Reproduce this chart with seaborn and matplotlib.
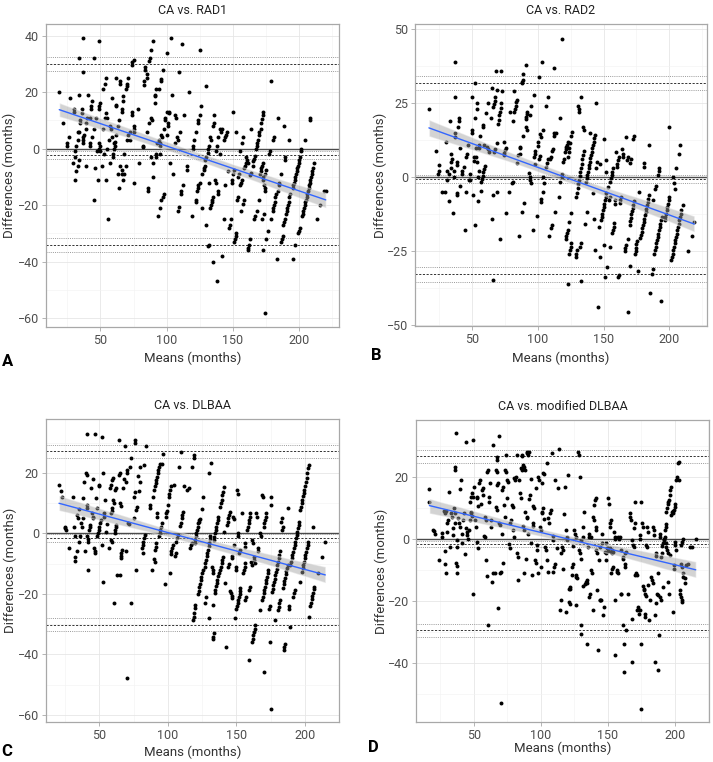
import matplotlib
matplotlib.use("Agg")
import matplotlib.pyplot as plt
import seaborn as sns
import pandas as pd
from matplotlib.ticker import MultipleLocator, FixedLocator
from matplotlib.collections import PolyCollection

sns.set_theme(style="white")
plt.rcParams['font.family'] = ['Roboto', 'DejaVu Sans']

titles = ["CA vs. RAD1", "CA vs. RAD2", "CA vs. DLBAA", "CA vs. modified DLBAA"]
letters = ["A", "B", "C", "D"]
xlabel = "Means (months)"
ylabel = "Differences (months)"

# Bland-Altman reference lines: [bias, bias CI hi, bias CI lo, upper LoA, upper hi, upper lo, lower LoA, lower hi, lower lo]
lines_a = [-2.2, -0.8, -3.6, 29.9, 32.4, 27.4, -34.1, -31.7, -36.6]
lines_b = [-0.5, 0.8, -1.8, 32.0, 34.3, 29.5, -32.8, -30.3, -35.3]
lines_c = [-1.6, -0.3, -3.0, 27.2, 29.3, 24.9, -30.2, -28.0, -32.4]
lines_d = [-1.5, -0.5, -2.7, 26.9, 28.9, 24.6, -29.5, -27.4, -31.7]

yticks_a = [-60, -40, -20, 0, 20, 40]
yticks_b = [-50, -25, 0, 25, 50]
yticks_c = [-60, -40, -20, 0, 20]
yticks_d = [-40, -20, 0, 20]
xticks = [50, 100, 150, 200]

pts_a = [(19,20),(22,9),(25,1),(25,2),(26,4),(27,18),(29,-5),(30,14),(30,13),(31,-11),(31,-1),(31,-3),(32,-8),(32,1),(33,3),(33,6),(33.5,-6),(34,19),(34,32),(34,6),(34,-4),(35,10),(35,9),(36,14),(36,12.5),(37,3),(37,2),(37,4),(37,39),(37,27),(37.5,5),(39,-6),(39,7),(39,9),(40,11),(41,19),(42,11),(42,1),(42,2),(43,15),(43,14),(43.5,4),(44,17),(45,-18),(45,7),(45.5,32),(46,-7),(47,11),(47.5,-1),(49,0),(49,2),(49,38),(49,14),(49,15),(48.5,-11),(50,16),(50,-1),(50,1),(51,-6),(52,7),(52,21),(53,-2),(53.5,23),(54,25),(53.5,11),(54,12.5),(54,-11),(55,11),(55,0),(56,-25),(56.5,3),(57,-5),(57,8),(58,7),(58.5,4),(59,18),(59.5,-3),(59.5,-2),(60,0),(60,2),(61,1),(61,2.5),(61.5,15.5),(62,15),(62,5),(62,25),(63,8),(63.5,-9),(64,10),(64,-14),(65,24),(65,23),(65,-6),(66,-7.5),(66.5,-9),(67,-11),(66,14),(66.5,13),(67,17),(67,18.5),(68,-2),(68,-9),(69,-6),(69,21),(70,22),(70,23),(70,3),(70.5,25),(71,5),(72,6),(72,3),(73.5,13),(74,12),(74,29.5),(74,30.5),(75,31.5),(75,8),(75,7),(75,6),(75.5,-12),(78.5,14),(79,-5),(82,1),(82.5,0.5),(83,24),(83,22.5),(83.5,29),(84,28),(85,26.5),(85,25),(85,6),(86,-14),(86,-15),(87,9),(87,31),(87.5,32),(88,-3),(88.5,35),(88.5,11),(89,10),(90,-5),(90,-10),(90,38),(91,18.5),(91,19),(91,16),(92,-3),(92,-2),(92,21),(93,2),(93.5,-24),(94,21),(94,3),(95,2),(95,1),(95,-2),(95,-21),(96,24.5),(96,24),(96,-18),(97,-17),(96,5),(96.5,4),(97,28),(98,7),(98,-16),(99,11),(99,10),(100,5),(100,13),(100,34),(101,9),(101,8),(102,12.5),(102,13),(102.5,-5),(103,39),(104,19),(105,-9),(106,2),(106.5,12),(107,11),(108,4),(108.5,3),(108.5,-22),(109,-20.5),(109,27),(110,6),(111,-16),(111,-15),(111.5,37),(112,-13),(113,12),(115,-7.5),(115,-6),(117,20),(119,-24),(120,0),(120,1),(121,3),(122,-19),(122,-18),(122,6),(123,-15),(124,-14),(124,-13),(125,-12),(124,9),(124,10),(125,35),(125,12),(126,15),(126.5,-21),(127,-9),(128,-7.5),(128.5,-7),(129,-6),(129,-4),(130,-3),(130,-27),(130,22),(131,-1.5),(131.5,0),(132,1),(131.5,-34.5),(132,-34),(132,-12),(133,-21),(133.5,-20),(134,-19),(134.5,-18),(135,-17),(133,4),(133.5,3),(135,-40),(135,8),(136,9),(136,12),(136.5,-11),(137,-12),(137,-1),(138,1),(138,-47),(138.5,-16),(139,-15),(139,4),(140,7),(140,-2),(141,6),(141.5,7),(142,-38),(143,-25),(143.5,3),(144,4),(144,-13),(145,5),(145.5,6),(146,-8),(147,-28),(148,-27),(148.5,-25),(149,-12),(149.5,-11),(150,13),(150,-9),(151,-7.5),(151,-33),(151.5,-32),(152,-31),(152.5,-30),(152,6),(153,-18),(153.5,-17),(154,-10),(154.5,-9),(155,-1),(155,-13),(156,-12),(156.5,-11),(156,-22),(157,2),(157.5,4),(157.5,-19.5),(158,-18),(158.5,-7),(159,-6),(159.5,-5),(160,-3),(160.5,-4),(161,-5),(161,-36),(161.5,-35),(162,-34),(162.5,-32),(163,-9.5),(163.5,-8.5),(164,7),(165,-6),(165.5,-4.5),(166,-3.5),(166.5,-2.5),(166,-25),(167,-24),(167.5,0),(168,1),(168.5,2),(169,3),(169.5,5),(170,6),(168.5,-22),(170,-18),(170.5,-9),(171,-8),(171.5,-7),(172,-6),(172.5,-5),(171,7),(171.5,9),(172,10.5),(172.5,12),(173,13),(172,-25),(172.5,-10),(173,-11),(173.5,-13),(174,-14),(174.5,-15),(173,-36),(173.5,-23),(174,-9),(175,-7.5),(174,-58),(175,-32),(176.5,-29),(177,-2),(178,-1),(178.5,24),(178.5,-25),(180,-22),(180.5,-21),(181,-20),(181.5,-19),(182,-17),(182.5,-16),(180,3),(181,4),(183,-39),(184,-15),(184.5,-13),(185,-12),(184,11),(186,-33),(187,-32),(187.5,-31),(186,-9),(188,-27),(188.5,-26),(189,-25),(188.5,8),(189,-3),(189.5,-4),(190,-23),(190.5,-22),(191,-21),(191.5,-20),(192,-19),(192.5,-17),(193,-16),(192,3),(195,-39),(195,-14),(195.5,-13),(196,-12),(196.5,-11),(197,-10),(197.5,-9),(198,-8),(198.5,-7),(199,-6),(199.5,-5),(200,-4),(200.5,-3),(201,-1),(197,-34),(199,-30),(200,-29),(200.5,-28),(201.5,0),(202,-24),(202.5,-23),(203,-22),(203.5,-21),(204,-20),(204.5,-19),(205,-18),(205.5,-17),(206,-16),(206.5,-15),(207,-14),(207.5,-13),(208,-12),(208.5,-11),(209,-10),(209.5,-9),(210,-8),(210.5,-7),(211,-5),(204,3),(208,10),(208.5,11),(213.5,-25),(216,-20),(218.5,-15),(220,-15)]

pts_b = [(17,23),(22.4,9),(24,1),(24.5,2),(25,4),(27,-5),(29,-5),(29.7,12),(31,2),(31,-1),(32,-8),(32.5,1),(33,19),(33.5,3),(34,5),(34.5,6),(34,8),(35.5,-12),(36,0),(36,2),(36.5,13.7),(37,15),(37,27),(37,39),(38,4),(38.5,5),(38,-6),(38.5,-5.5),(39,17),(39.6,20),(40,19),(40.5,-3),(41,10),(42.4,2),(42.4,1),(43.7,3.5),(44.4,-18),(45,-5),(45,7),(45.7,8),(47,11),(47.7,-1),(48.2,-1),(48.5,1),(49.5,27),(49.7,15),(50,16),(50.8,-6),(51,5.5),(51.5,7),(51.8,-16),(52,20),(52,32),(53,7),(53.3,5),(53,10),(53.3,23),(53.5,25),(54,0),(54.6,-8),(55,10),(55,11),(55.4,2),(56,14),(56.3,-4.5),(57,-1.5),(57.5,-0.5),(58,0.5),(58.5,1.7),(59,2.8),(59.6,3.8),(58,17.6),(58.4,17),(59,11),(60.4,21.6),(61.4,10.3),(62,9.4),(62,25),(63,8.6),(64.4,20),(64.7,30),(65,-14),(65.7,-6),(66,23.8),(66.5,24.7),(67,25.9),(67.5,27.2),(66.5,8.6),(67,9.7),(66,-34.8),(68,36),(68.5,29.5),(68.5,11.4),(68.5,-5),(69.5,18),(70,19.5),(70.5,21),(71,22),(71.5,23.5),(72,25),(71,-21),(71.8,36),(73,29),(74,7.5),(74.5,8.3),(75,9.2),(75.6,10),(74,12),(75.3,-12),(78,-5),(78.6,22),(80,-2),(80.7,-1.5),(81,19),(81.4,22),(82,29),(82.4,23),(83,24),(83.4,25.5),(83.7,4.7),(84.2,26),(85,7.5),(86,8),(85.7,-20),(86,10),(86.7,10.3),(87.5,31.7),(88,32.3),(88.5,33),(87.8,-11.7),(88.8,14),(88.8,35),(89.3,-8.6),(90.6,38),(90.6,19.7),(91,20.5),(91.5,21.3),(92,22),(91,17),(91.6,16),(93,1.3),(93.6,0.2),(94,-1),(94.6,-2),(94,21),(95,24),(96.4,-18),(97,7),(97.5,8),(98,9),(97,27.8),(98,4.6),(99,-13),(99.7,10.6),(100.2,12),(100.7,34),(101,6),(101.7,7.3),(101.7,14.6),(102,13.7),(102,-7.5),(102.7,-8.3),(103,39),(103.5,16),(103.7,-5),(104,0),(104.5,-2),(105.8,24),(106.5,3.6),(107,4.7),(107.5,6),(107.3,27),(108.5,-20),(109,6),(109.6,7),(110.3,-17),(110.8,-16),(110.8,9),(111.3,9.7),(112,37),(112,14),(112.6,15),(112.9,-11.7),(114,15),(115.7,-6.6),(116.7,20),(117,-1.5),(118,0),(118.4,1.1),(118.2,46.6),(119,5),(119.5,6),(120.5,8.6),(121,9.4),(121.5,10.2),(122,11),(122.5,11.8),(121,-21),(121.5,-20),(122,-19),(122.5,-18),(122.8,-36),(122.8,7),(123.5,8.5),(124,10),(124.7,11.7),(125.3,14),(126,15.4),(123.8,-25.8),(124.3,-24.6),(124.8,-23.5),(125.3,-22.3),(125.5,-12.2),(123.8,-15),(128.6,-27),(129,-25.8),(129.6,-24.6),(131,23),(131,22),(130.6,24),(129.3,-6.6),(129.8,-5.2),(130.3,-3.8),(130.8,-2.4),(131.3,-1),(131.8,0.4),(132.3,1.8),(132.8,3.2),(133.3,4.6),(133.8,6),(134.3,7.4),(134.8,8.8),(131.9,-23.5),(132.4,-22.3),(132.4,-35),(133,27),(134.4,17),(135,16),(135.7,-15.8),(136.4,-1.5),(137,-0.4),(137.5,0.8),(138,1.9),(138.5,3),(139,4.2),(139.5,5.3),(140,6.4),(140.5,7.5),(141,8.6),(141.5,9.8),(142,10.9),(142.5,12),(143,13.2),(143.5,14.3),(137.7,-11.7),(140,15),(142,-5.5),(143,-14),(143.5,-24.6),(144,25),(144.5,3),(145,5),(145.8,-43.8),(146.6,-16.7),(147,4.6),(147.6,-27),(148,-14.5),(148.5,-13.4),(149,-12.3),(149.5,-11.2),(150,-10),(150.5,-8.9),(151,-7.8),(151.5,-6.6),(152,-5.5),(150,13),(150.4,-23),(151,-33.6),(151.6,1.9),(152.7,-30.3),(152,5.8),(153,-3.2),(154,-7.7),(154.7,-6.8),(155,-1.5),(155.5,-0.4),(156,0.7),(156.5,1.8),(157,3),(155,-23.7),(156.7,-19),(157.2,-17.9),(157.7,-16.8),(158.2,-15.6),(158.5,-9),(159,-7.7),(159.7,8.6),(160,3.5),(160.5,4.6),(161,5.8),(161.5,7),(161,-33.6),(161.7,-33),(162.3,-8.6),(162.8,-7.6),(163.3,-6.6),(164,9.7),(164.5,8),(165,6.8),(166,-25),(166.6,-24),(167,-23),(167.4,13.7),(168,5.8),(168.4,7),(168.6,-45.5),(168.9,-21),(170,-16),(170.4,-14.9),(170.8,-13.8),(171.2,-12.6),(171.6,-11.5),(172,-10.4),(172.4,-9.3),(172.8,-8.1),(170,-30),(170.4,4.7),(171,6),(172.4,13),(173,14),(174,-26),(174.3,-25),(174.7,-23.8),(175,-22.7),(175.4,-21.6),(177,-5),(176.5,-31.6),(178,-20.7),(178.5,-19.6),(179,-18.5),(179.5,-17.3),(180,-16.2),(180.5,-15),(181,-14),(181.5,-12.9),(182,-11.7),(182.5,-10.6),(183,-9.5),(183.5,-8.4),(184,-7.2),(184.6,-6),(180.5,3.6),(181,4.7),(184.6,11),(185,-39),(187,-32.7),(187.6,-31),(187.6,-7.7),(188.6,-25.8),(189.1,-24.7),(189.6,-23.6),(190.1,-22.4),(190.6,-21.3),(191.1,-20.2),(191.6,-19.1),(192.1,-17.9),(192.6,-16.8),(193.1,-15.7),(193.6,-14.6),(194.1,-13.4),(189,-4),(189.7,-3),(191.4,0.8),(192,2),(192.4,3),(193.7,-42),(196.4,-14.5),(197,-13.4),(197.5,-12.3),(198,-11.2),(198.5,-10),(199,-8.9),(199.5,-7.8),(200,-6.6),(201.6,-28),(202.1,-26.9),(202.6,-25.8),(203.1,-24.7),(203.6,-23.6),(204.1,-22.4),(204.6,-21.3),(205.1,-20.2),(205.6,-19.1),(206.1,-17.9),(206.6,-16.8),(207.1,-15.7),(207.6,-14.6),(208.1,-13.4),(208.6,-12.3),(209.2,-11),(210.5,-9.4),(200,17),(205,3),(207.4,8),(208,11),(202.8,0),(203.5,-2),(204,-4),(214,-25),(217.5,-20),(219,-15)]

pts_c = [(20.5,16),(22,14),(22.4,12),(25,2),(25.2,1.6),(25.4,1),(27.8,-5),(30.5,12),(31.5,2),(32,-1),(32.2,-8),(32.4,-9),(33.4,-6),(34,6),(34.4,5.2),(35,8),(35.4,-3),(36,-1),(36.6,3.3),(37,2.2),(38.3,11.6),(38.3,5),(38.8,17),(39.5,-6),(40,20),(41,19.3),(40.7,33),(40.7,9.4),(41.2,8.3),(41,-1),(41.5,-2),(41.7,-3),(42,-12),(42.7,1),(43,2),(43,2.8),(43.7,15),(44.6,6.6),(45,5.5),(45.6,5),(45.6,18),(46,-5),(46.6,-6),(47,-6.6),(47,33),(47.6,11.6),(48,8.3),(48.5,-1),(49,0),(49.5,1),(50,2.2),(49.5,15.5),(50,16),(50.5,3.3),(51,4.4),(52,-4),(52.2,32),(52.4,20),(52.4,-16),(53,6.6),(53.4,5.5),(54,11),(55,0.5),(55.8,3),(57.3,-5),(57.8,15),(58.3,16),(58.5,6.6),(59,7.5),(59.5,8.3),(58.5,-2.2),(59,-3),(59.3,17.7),(59.8,18.2),(60,11),(60.7,10),(61,-23),(61.2,0),(61.6,1),(61.8,2),(62,2.8),(61.5,14.4),(62,15),(62.7,-13.8),(64,31),(64.4,19.3),(65,20),(65,10),(65.6,9),(65,-13.8),(65.6,-8.3),(65.8,-7.5),(66,-6.6),(66.3,-5.5),(67.6,15),(68.3,18),(68.8,29),(69.3,-6),(69.5,17),(70,20),(70.5,21),(70,-48),(71,3.5),(71.7,3),(72,22),(73,25),(73,-23),(75,5),(75.6,12),(76,13.6),(75.8,31),(76,30),(76.6,-12),(76.6,7.7),(77.3,8.8),(78,19),(79.2,14),(79.7,22),(80,17),(81,-5),(81.5,-4),(82,-2.8),(82.5,-1.7),(83,-0.5),(81.7,-6.4),(82.7,22.6),(84,29),(86.6,9.4),(87,8.3),(88.3,-12),(89,12),(90,-8.6),(90.5,-9.4),(90,14.4),(90.5,15.5),(91,16.5),(91.5,17.6),(92,18.7),(92.5,19.8),(93,20.9),(93.4,22),(93.9,23),(90.7,-5.5),(91,-4.4),(91.5,-3.3),(92,5.5),(92.4,6.6),(93.4,-1),(94,0),(94.4,1.1),(95,2.2),(95.4,3.3),(95.4,23),(96.8,26.3),(97.8,-16.8),(98.5,5.5),(99,6.6),(99.5,7.5),(99.8,9.4),(100.5,12),(101,13),(101.5,14.4),(102,15.5),(101.7,-13),(102,-7),(102.5,-6),(103,-5),(103.7,-4),(104.6,16),(105,-7.5),(105.6,-6.6),(106.3,-3),(106.8,-1.7),(107.3,-0.5),(107.8,22),(109,2.4),(109.5,3.5),(110,5),(110.5,6),(111,7),(109.8,27),(112,15.5),(114,14.4),(115.6,15),(116.3,-5),(116.8,-3.9),(117.3,-3.3),(117.6,22),(118.3,-28.7),(118.8,-27.6),(119.3,-26.5),(118.8,25),(119.3,26),(119.5,-3.3),(120,-2.2),(120.2,-1),(120.7,0),(121.2,1.1),(121.7,2.2),(122.2,3.3),(122.7,4.4),(119.5,-24.6),(120,-23.8),(122,-20),(122.5,-19),(123,-17.8),(123.5,-16.6),(124,-15.5),(124.5,-14.4),(125,-13.2),(125.4,-12),(123,3.6),(123.7,4.7),(124.6,8),(126,12),(126.8,-11),(127.3,-9.8),(127.8,-8.7),(128.3,-7.6),(128.8,-6.5),(129.3,-5.4),(129.8,-4.3),(130.2,-3.1),(130.7,-2),(131,-0.9),(127,-23),(127.8,-21),(130,-28),(130.2,20),(131.7,23.4),(132,-11),(132.7,-12),(133,-13),(132.7,-34.2),(133,-34.8),(133.4,-33.1),(133,-23.7),(133.4,-2.2),(133.9,-1.1),(134.4,0),(134.9,1.1),(135.4,2.2),(135.9,3.3),(136.4,4.4),(136.8,5.5),(134.2,-19.7),(134.7,-18.6),(135.2,-17.5),(135.7,-16.4),(136.2,-15.3),(136.7,-14.2),(137.2,-13),(138.2,-12),(138.7,-11),(139.2,-9.9),(139.7,-8.8),(140.2,-7.7),(138.3,8.8),(138.8,9.9),(139.3,11),(139.8,12.7),(140.2,13.8),(140.7,15.2),(140.7,0.5),(142,-16.4),(142.7,-37.6),(143.2,2.8),(143.7,3.9),(144.2,5),(144.7,6.1),(145.2,7.2),(144,-11),(144.6,-10),(145.6,-19),(146,-19.8),(146.6,-20.8),(147,-21.5),(146.6,-8.3),(147,-7.5),(147.6,5.3),(148,4.6),(148.5,-4),(149.3,-28),(149.5,-11),(150,-12),(150,-25),(150.5,-24),(151,-23),(151.5,-22),(152,-21),(152.5,-20),(153,-19),(150.5,14.4),(151,13),(151,0),(151.5,-1),(152,-6.6),(152.4,-5.5),(153,-18),(154,6.8),(155,-13),(155.5,-12),(156,-11),(156.5,-9.9),(156,-4.4),(156.5,-3.3),(156.6,-22.1),(157.1,-21),(158,1),(158.5,2.2),(159,3.3),(159.5,4.4),(160,5.5),(160.2,6.6),(159,-42),(159.5,-18.8),(160,-17.7),(160.8,-9.4),(161.3,-10.5),(161.5,-36),(162,-34.8),(162.5,-33.7),(163,-32.6),(163.5,-31.5),(164,-30.4),(161.8,-2.2),(162.3,-3.3),(162.7,-7.7),(163.2,-8.8),(163.7,-9.9),(164.6,6.6),(165,5.5),(165.6,-6),(166,-5),(167,-25.4),(167.6,0),(168,-1),(169,12.7),(169.5,12),(170,-46),(169,-22),(169.5,-21),(170,-19.8),(170.5,-18.7),(171,-17.6),(171.5,-16.5),(172,-15.4),(172.5,-14.3),(173,-13.2),(173.4,-12),(170,2.2),(170.5,3.3),(171,4.4),(171.5,5.5),(172,6.6),(174,-25),(174.4,-24),(174.4,-36),(175,9.4),(175.5,12),(175.4,-58),(176,-19.4),(176.5,-18.3),(177,-17.2),(177.5,-16.1),(178,-15),(178.5,-13.9),(179,-12.8),(179.5,-11.7),(180,-10.6),(180.5,-9.4),(181,-8.3),(181.5,-7.2),(181.6,-6),(178,-28.7),(180.5,-25.4),(181,-24.3),(181.5,-23.2),(182,-22),(182.7,3.8),(183.2,4.9),(183.4,1.1),(184,2.2),(184,-18),(184.5,-16.9),(185,-15.8),(185.5,-14.7),(186,-13.6),(186.5,-12.5),(187,-11.4),(187.5,-10.5),(184.6,-38.7),(185.1,-37.6),(185.6,-36.5),(187.8,8.3),(188.3,-25),(188.7,-24),(189.5,-31),(189.5,-10.5),(190,-9.4),(190.5,-8.3),(191,-7.2),(191.5,-6.1),(192,-5),(192.5,-3.9),(193,-2.8),(193.5,-1.7),(194,-0.6),(194.5,0.5),(195,1.6),(195.5,2.7),(196,3.9),(191.5,-21),(192,-19.9),(192.5,-18.8),(196.8,-16),(196.8,7.7),(197.3,8.8),(197.8,9.9),(198.3,11),(198.8,12.2),(199.3,13.3),(199.8,14.4),(200.3,15.5),(200.8,17.1),(201.3,18.2),(201.8,19.9),(202.3,21.5),(202.8,22.6),(198,-12.7),(198.5,-11.6),(199,-10.5),(199.5,-9.4),(200,-8.3),(200.5,-7.2),(201,-6.1),(201.5,-5),(202,-3.9),(202.5,-2.8),(203,-27.6),(204,-24),(204.5,-22.9),(205,-21.8),(205.5,-20.7),(206,-19.6),(206.5,-18.5),(207,-17.7),(206,2.2),(210,-13),(212.7,-7.7),(215,-3)]

pts_d = [(16.7,16.1),(16.7,12.1),(19.2,3.1),(20.1,2.7),(20.9,1.8),(24.1,-6.8),(25.9,2.0),(26.4,0.8),(27.6,9.1),(28.4,8.3),(29.1,9.1),(28.4,-3.8),(28.6,-7.9),(28.9,-10.9),(29.6,2.4),(30.1,5.1),(30.6,6.1),(31.6,15.1),(32.1,-2.5),(32.6,8.3),(33.3,7.2),(34.1,3.5),(34.6,1.3),(35.3,10.2),(35.8,5.1),(36.1,8.3),(36.3,34.2),(35.8,23.2),(36.1,22.3),(36.6,-7.7),(37.1,-8.7),(37.6,-10.9),(37.1,-0.3),(37.6,-2.5),(38.3,6.7),(39.1,5.1),(39.6,4.0),(39.6,16.1),(40.3,19.1),(40.8,1.8),(41.3,-1.4),(42.0,6.1),(42.5,8.3),(43.3,-4.9),(44.0,31.5),(44.0,3.5),(44.5,2.4),(45.0,1.3),(45.8,0.2),(46.5,2.9),(47.0,6.1),(47.5,8.3),(47.0,12.1),(47.5,13.7),(48.3,14.8),(49.0,13.5),(47.8,8.8),(48.5,7.4),(49.0,32.0),(49.5,-17.6),(50.0,16.9),(50.7,6.1),(51.5,4.0),(52.0,13.2),(52.5,13.7),(53.2,10.7),(52.5,-0.9),(53.2,-3.0),(54.0,18.0),(54.5,19.1),(55.0,11.5),(55.7,15.9),(56.5,16.4),(57.0,14.2),(57.5,1.0),(58.0,0.8),(58.2,7.2),(59.0,6.1),(59.0,-6.8),(59.5,-12.0),(60.0,21.8),(60.4,22.3),(60.7,-27.8),(60.9,13.7),(61.4,12.1),(61.9,18.0),(62.4,6.1),(62.9,4.0),(63.2,-13.8),(63.9,-10.9),(64.4,30.4),(65.7,-11.1),(66.4,22.3),(66.9,21.8),(66.4,10.5),(66.9,9.4),(66.9,26.6),(67.4,25.6),(67.4,17.5),(68.2,18.0),(68.2,-22.4),(68.7,33.3),(68.9,5.3),(69.4,4.5),(69.4,-11.1),(69.9,-10.6),(70.1,-52.9),(70.6,1.8),(71.1,15.9),(71.4,16.9),(71.9,-7.7),(72.6,11.0),(73.1,7.2),(73.1,22.3),(73.9,21.8),(73.9,27.2),(74.4,13.4),(74.9,19.1),(75.6,18.6),(76.1,-1.7),(76.9,-3.0),(76.9,5.1),(77.4,6.1),(78.1,11.0),(78.9,10.5),(79.4,2.9),(79.9,0.8),(79.9,19.6),(80.6,19.1),(81.3,20.2),(81.8,27.2),(82.3,-4.6),(82.8,-5.7),(83.1,-13.3),(83.6,19.1),(84.3,14.8),(84.8,13.2),(84.8,22.9),(85.6,22.3),(86.1,22.9),(86.8,23.9),(87.3,23.2),(88.1,22.3),(85.6,27.2),(86.1,26.9),(86.8,4.2),(87.3,3.1),(87.6,-11.1),(88.1,8.8),(88.6,-6.3),(89.3,28.3),(89.8,27.7),(90.5,27.2),(91.3,28.3),(89.3,6.7),(89.8,7.2),(90.5,1.8),(91.3,12.9),(91.8,14.2),(92.3,19.3),(92.8,-1.4),(93.0,-11.7),(93.8,5.1),(94.3,4.2),(94.3,10.7),(94.8,9.9),(95.5,-6.8),(96.3,-7.7),(96.3,16.4),(96.8,-1.9),(97.3,-3.6),(98.0,20.2),(98.5,19.1),(98.0,-10.9),(99.3,4.0),(99.8,2.9),(100.0,-9.0),(100.5,8.3),(101.0,8.8),(101.5,9.9),(101.2,18.0),(101.7,21.5),(102.2,21.0),(102.5,6.4),(103.0,-2.5),(103.5,-3.6),(104.2,-6.8),(104.7,24.5),(105.5,6.7),(106.0,5.1),(105.5,-10.6),(106.7,8.3),(107.2,9.4),(108.0,27.7),(108.7,1.0),(109.2,-0.3),(109.2,-10.6),(109.7,-9.0),(110.2,-7.9),(110.4,19.1),(111.7,-3.0),(112.9,16.4),(113.7,29.0),(114.2,-23.0),(114.7,-19.7),(115.4,-4.6),(115.9,-2.5),(116.4,-3.6),(116.7,-9.8),(117.2,8.0),(117.7,16.7),(118.4,-23.5),(118.7,2.9),(119.2,0.8),(119.7,-0.3),(120.4,20.7),(120.9,-16.0),(121.6,-15.6),(122.1,-16.0),(121.1,-20.3),(121.6,-21.0),(122.9,-9.0),(123.4,-11.7),(124.1,-7.9),(124.1,-2.3),(124.9,3.1),(125.4,1.8),(125.9,0.8),(126.1,-11.7),(126.6,-12.2),(127.1,-12.7),(126.6,-21.4),(127.9,28.3),(128.4,27.2),(128.4,-3.6),(129.1,-4.6),(129.6,-6.3),(129.1,20.2),(129.6,-27.8),(130.1,-30.5),(130.3,-0.3),(131.1,0.8),(131.6,4.0),(131.6,-15.2),(132.1,8.8),(132.8,-14.6),(133.6,-13.8),(134.1,-13.3),(134.6,-14.3),(134.6,-33.8),(135.1,-2.5),(135.6,0.8),(136.1,1.8),(136.1,-18.7),(136.6,-17.6),(137.1,0.8),(137.8,-10.0),(138.3,-11.1),(138.6,-23.0),(139.1,7.2),(139.6,6.1),(139.8,11.0),(140.3,12.6),(141.0,13.4),(141.0,4.0),(141.5,2.9),(141.5,-3.6),(142.0,-4.6),(142.0,-16.5),(142.8,-35.9),(143.5,-6.8),(144.0,-19.7),(144.5,-19.7),(145.0,-19.7),(144.5,-2.5),(145.3,-1.2),(146.0,1.8),(146.5,-24.6),(147.0,-21.9),(147.8,-4.1),(148.3,-1.4),(148.5,-6.8),(149.0,-4.6),(149.5,-3.0),(150.0,-3.8),(150.5,-3.0),(150.2,13.2),(151.0,11.5),(151.5,4.0),(152.0,5.1),(152.7,6.1),(152.0,-3.0),(152.5,-4.1),(153.0,-4.6),(153.5,-3.6),(154.0,-4.1),(152.7,-11.1),(153.5,-9.6),(154.0,-9.0),(154.5,2.4),(155.0,0.8),(155.5,-0.1),(155.2,-37.5),(155.5,-19.7),(156.5,-10.0),(157.0,-10.6),(157.5,-11.1),(157.7,0.8),(158.2,-0.1),(159.0,0.8),(159.5,-17.6),(160.0,-17.6),(160.2,-3.6),(161.0,-5.7),(161.4,-6.3),(161.4,-27.8),(161.9,-42.9),(162.2,-33.8),(162.7,-9.0),(163.2,-7.9),(163.2,-4.6),(163.7,-4.1),(163.9,-29.5),(165.2,-17.6),(166.4,8.3),(166.9,7.2),(167.4,6.1),(167.7,-39.7),(167.9,-25.7),(168.4,-0.3),(168.9,-1.9),(169.4,-2.5),(169.4,3.5),(170.1,5.1),(170.1,12.1),(170.6,-11.7),(171.4,-11.1),(171.9,-11.7),(172.1,-23.0),(172.6,-21.9),(173.1,-23.0),(173.6,-24.1),(174.1,-23.0),(173.9,0.2),(174.4,1.3),(174.6,-33.8),(175.1,12.1),(175.1,-54.8),(175.9,5.1),(176.4,4.0),(176.4,-15.1),(176.9,-16.0),(177.4,-16.5),(177.9,-17.6),(178.4,-18.4),(177.6,-25.1),(178.1,-24.1),(178.9,-1.9),(179.4,-2.5),(179.4,4.0),(179.9,2.4),(180.1,-14.9),(180.8,-26.2),(181.3,-19.7),(182.6,-12.2),(183.3,-13.3),(183.8,-14.3),(183.8,4.0),(184.3,2.9),(184.8,1.3),(185.1,-24.6),(185.6,-39.7),(185.8,-5.4),(186.3,-4.6),(186.3,-20.8),(187.1,-17.6),(187.6,-18.1),(187.6,-11.1),(187.8,-42.4),(188.3,-31.1),(188.8,1.8),(189.3,0.8),(189.3,-18.7),(189.8,-19.7),(190.0,-5.7),(190.5,-4.6),(190.8,-2.2),(191.3,-1.2),(191.3,-15.4),(191.8,0.2),(192.3,-0.3),(192.8,0.8),(193.3,-1.4),(193.8,-2.5),(194.3,-3.6),(194.8,-4.6),(192.5,2.9),(193.3,4.0),(193.8,4.9),(193.8,8.8),(194.3,9.9),(194.8,11.5),(195.3,12.1),(195.8,12.6),(196.3,14.2),(196.8,15.9),(197.3,16.9),(195.0,-13.8),(195.8,-17.6),(196.3,-5.2),(197.5,7.8),(198.0,8.8),(198.5,9.2),(199.0,8.3),(199.5,9.4),(200.0,10.5),(200.5,11.3),(198.8,-23.5),(199.3,-9.5),(199.8,-8.4),(200.0,-0.9),(200.5,-1.9),(201.0,-3.6),(201.2,19.1),(201.7,20.0),(202.5,24.5),(203.0,25.0),(203.2,19.1),(203.7,-16.5),(204.2,-17.6),(204.7,-18.7),(205.2,-19.7),(205.7,-20.3),(205.0,-7.9),(205.5,-9.0),(206.0,-11.1),(206.5,-12.2),(205.0,-1.9),(205.5,-0.9),(206.2,0.2),(207.5,-14.3),(208.0,-12.7),(208.7,-8.4),(210.0,-7.9),(211.2,-2.5),(213.2,-2.5),(215.7,0.0)]

W, H = 713, 762

def fx(px):
    return px / W

def fy(py):
    return 1 - py / H

panels = [
    dict(pts=pts_a, lines=lines_a, yt=yticks_a, ymin=10, box=(46, 24, 339, 327), xlim=(9.0, 230.0), ylim=(-63.1, 44.1),
         xl=(192.5, 358), yl=(9, 175.5), let=(8, 361)),
    dict(pts=pts_b, lines=lines_b, yt=yticks_b, ymin=12.5, box=(415, 24, 707, 326), xlim=(6.4, 228.7), ylim=(-50.3, 51.8),
         xl=(561, 358), yl=(380, 175), let=(376, 356)),
    dict(pts=pts_c, lines=lines_c, yt=yticks_c, ymin=10, box=(46, 419, 339, 722), xlim=(11.0, 225.0), ylim=(-62.4, 37.8),
         xl=(192.5, 752), yl=(10, 570), let=(7, 752)),
    dict(pts=pts_d, lines=lines_d, yt=yticks_d, ymin=10, box=(416, 420, 709, 722), xlim=(6.7, 225.6), ylim=(-59.1, 38.5),
         xl=(562.5, 748), yl=(381, 571), let=(373, 748)),
]

fig = plt.figure(figsize=(W / 100, H / 100), dpi=100)
fig.patch.set_facecolor("white")

tick_col = "#4d4d4d"
for i, p in enumerate(panels):
    l, t, r, b = p["box"]
    ax = fig.add_axes([fx(l), fy(b), (r - l) / W, (b - t) / H])
    ax.set_facecolor("white")
    df = pd.DataFrame(p["pts"], columns=["mean", "diff"])

    ax.set_xlim(*p["xlim"])
    ax.set_ylim(*p["ylim"])
    ax.xaxis.set_major_locator(FixedLocator(xticks))
    ax.xaxis.set_minor_locator(MultipleLocator(25))
    ax.yaxis.set_major_locator(FixedLocator(p["yt"]))
    ax.yaxis.set_minor_locator(MultipleLocator(p["ymin"]))
    ax.grid(True, which="major", color="#e6e6e6", lw=0.6, zorder=0)
    ax.grid(True, which="minor", color="#f2f2f2", lw=0.4, zorder=0)
    ax.set_axisbelow(True)

    L = p["lines"]
    ax.axhline(0, color="#4a4a4a", lw=1.0, zorder=1)
    for val, kind in zip(L, ["dash", "dot", "dot", "dash", "dot", "dot", "dash", "dot", "dot"]):
        if kind == "dash":
            ax.axhline(val, color="#333333", lw=0.7, ls=(0, (2.2, 1.6)), zorder=1.2)
        else:
            ax.axhline(val, color="#9a9a9a", lw=0.7, ls=(0, (1, 1.2)), zorder=1.1)

    sns.scatterplot(data=df, x="mean", y="diff", ax=ax, color="black", s=8, linewidth=0, zorder=3, legend=False)
    n_before = len(ax.collections)
    sns.regplot(data=df, x="mean", y="diff", ax=ax, scatter=False, ci=95, n_boot=500, seed=3,
                color="#3366FF", line_kws={"lw": 1.0, "zorder": 5}, truncate=True)
    for coll in ax.collections[n_before:]:
        if isinstance(coll, PolyCollection):
            coll.set_facecolor("#9e9e9e")
            coll.set_alpha(0.45)
            coll.set_zorder(4)

    ax.set_xlabel("")
    ax.set_ylabel("")
    for s in ax.spines.values():
        s.set_color("#a8a8a8")
        s.set_linewidth(0.9)
    ax.tick_params(axis="both", which="major", length=3, width=0.6, color="#a8a8a8",
                   labelsize=9, labelcolor=tick_col, pad=2, left=True, bottom=True)
    ax.tick_params(axis="both", which="minor", length=0)
    ax.set_title(titles[i], fontsize=9, color="#222222", pad=7)

    fig.text(fx(p["xl"][0]), fy(p["xl"][1]), xlabel, ha="center", va="center", fontsize=9.5, color="#333333")
    fig.text(fx(p["yl"][0]), fy(p["yl"][1]), ylabel, ha="center", va="center", rotation=90, fontsize=9.5, color="#333333")
    fig.text(fx(p["let"][0]), fy(p["let"][1]), letters[i], ha="center", va="center", fontsize=12,
             fontweight="bold", color="black")

fig.savefig("out.png", dpi=100, facecolor="white")
